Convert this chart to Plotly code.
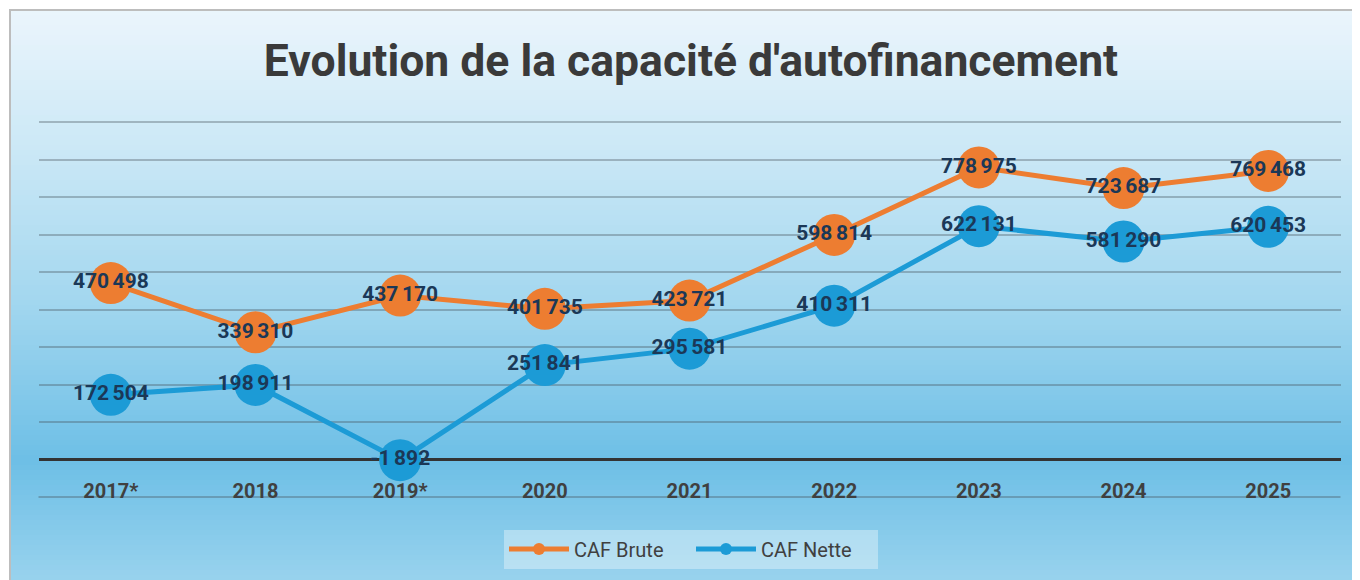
import plotly.graph_objects as go

# ---- data ----
years = ["2017*", "2018", "2019*", "2020", "2021", "2022", "2023", "2024", "2025"]
caf_brute = [470498, 339310, 437170, 401735, 423721, 598814, 778975, 723687, 769468]
caf_nette = [172504, 198911, -1892, 251841, 295581, 410311, 622131, 581290, 620453]
title_text = "Evolution de la capacité d'autofinancement"

W, H = 1360, 580
OX, OY = 8, 8  # page body margin offset


def px(x):
    return (x - OX) / W


def py(y):
    return 1 - (y - OY) / H


def fmt(v):
    s = f"{abs(v):,}".replace(",", "\u2006")
    return ("-" if v < 0 else "") + s


ORANGE = "#ED7D31"
BLUE = "#1C9BD6"
LABEL = "#1B3857"
GRID = "rgba(70,80,90,0.35)"

fig = go.Figure()
for name, vals, col in [("CAF Brute", caf_brute, ORANGE), ("CAF Nette", caf_nette, BLUE)]:
    fig.add_trace(go.Scatter(
        x=years, y=vals, name=name, mode="lines+markers+text",
        line=dict(color=col, width=5),
        marker=dict(color=col, size=42),
        text=[fmt(v) for v in vals], textposition="middle center",
        textfont=dict(family="Roboto", size=21, color=LABEL, weight="bold"),
        cliponaxis=False,
    ))

# background gradient (top to bottom, screen pixel y -> colour)
stops = [(10, (235, 245, 252)), (150, (203, 232, 246)), (300, (163, 215, 239)),
         (460, (109, 191, 230)), (590, (156, 212, 238))]


def col_at(y):
    for (y0, c0), (y1, c1) in zip(stops, stops[1:]):
        if y0 <= y <= y1:
            t = (y - y0) / (y1 - y0)
            return "rgb(%d,%d,%d)" % tuple(round(a + (b - a) * t) for a, b in zip(c0, c1))
    return "rgb(%d,%d,%d)" % stops[-1][1]


shapes = []
step = 5
for y in range(10, H + 10, step):
    shapes.append(dict(type="rect", xref="paper", yref="paper", layer="below",
                       x0=px(10), x1=1.01, y0=py(y + step), y1=py(y),
                       line=dict(width=0), fillcolor=col_at(y + step / 2)))
shapes.append(dict(type="rect", xref="paper", yref="paper", layer="below",
                   x0=px(10), x1=1.02, y0=-0.02, y1=py(10),
                   line=dict(color="#BDBDBD", width=2), fillcolor="rgba(0,0,0,0)"))

eps = 6000  # small extension so edge gridlines are drawn
pxu = 375 / 1_000_000  # pixels per unit
y_min = -100000
# bottom edge gridline (plotly clips the end one)
shapes.append(dict(type="line", xref="x domain", yref="y", layer="below",
                   x0=0, x1=1, y0=y_min, y1=y_min, line=dict(color=GRID, width=2)))

fig.update_layout(
    width=W, height=H,
    margin=dict(l=0, r=0, t=0, b=0),
    paper_bgcolor="white", plot_bgcolor="rgba(0,0,0,0)",
    shapes=shapes,
    title=dict(text=title_text, x=px(691), xanchor="center", y=py(60), yanchor="middle",
               font=dict(family="Roboto", size=44.5, color="#3A3A3A", weight="bold")),
    xaxis=dict(domain=[px(38.5), px(1340.5)], range=[-0.5, 8.5], showgrid=False,
               showline=False, zeroline=False, ticks="", ticklabelposition="inside",
               anchor="free", position=py(505),
               tickfont=dict(family="Roboto", size=20, color="#404040", weight="bold")),
    yaxis=dict(domain=[py(497 + eps * pxu), py(122 - eps * pxu)],
               range=[y_min - eps, 900000 + eps], dtick=100000, tick0=0,
               showticklabels=False, showgrid=True, gridcolor=GRID, gridwidth=2,
               zeroline=True, zerolinecolor="#333333", zerolinewidth=3, showline=False),
    legend=dict(orientation="h", x=px(691), xanchor="center", y=py(549), yanchor="middle",
                bgcolor="rgba(255,255,255,0.35)", font=dict(family="Roboto", size=20, color="#404040"),
                itemwidth=60, itemsizing="constant", entrywidth=112),
    showlegend=True,
)

fig.write_html("out.html")
